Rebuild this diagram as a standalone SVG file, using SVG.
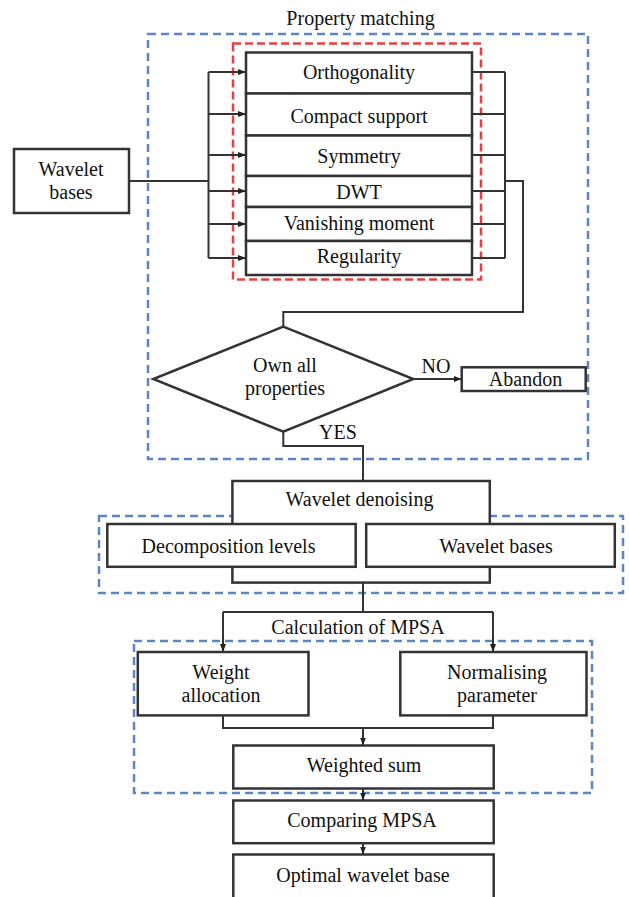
<svg xmlns="http://www.w3.org/2000/svg" width="629" height="897" viewBox="0 0 629 897">
<defs>
<marker id="ah" markerWidth="9" markerHeight="7" refX="8" refY="3.5" orient="auto" markerUnits="userSpaceOnUse">
<path d="M0,0.5 L8,3.5 L0,6.5 z" fill="#222"/>
</marker>
</defs>
<style>
.box{fill:#fff;stroke:#333;stroke-width:2.5}
.ln{fill:none;stroke:#333;stroke-width:2}
.arr{fill:none;stroke:#333;stroke-width:2;marker-end:url(#ah)}
.blue{fill:none;stroke:#5b86c6;stroke-width:2.5;stroke-dasharray:8 5}
.red{fill:none;stroke:#e8403f;stroke-width:2.5;stroke-dasharray:8 4}
text{font-family:"Liberation Serif","Times New Roman",serif;font-size:20px;fill:#111;text-anchor:middle}
</style>
<rect width="629" height="897" fill="#fff"/>
<g id="groups">
<rect class="blue" x="148" y="34" width="440" height="425"/>
<rect class="red" x="233" y="43.5" width="248" height="236"/>
<rect class="blue" x="99" y="516" width="524" height="77"/>
<rect class="blue" x="134" y="641" width="458" height="152"/>
<text x="360.5" y="25">Property matching</text>
</g>
<g id="connectors">
<path class="ln" d="M129,181 H208.5 M208.5,72 V258"/>
<path class="arr" d="M208.5,72 H246"/>
<path class="arr" d="M208.5,114 H246"/>
<path class="arr" d="M208.5,155 H246"/>
<path class="arr" d="M208.5,191 H246"/>
<path class="arr" d="M208.5,224 H246"/>
<path class="arr" d="M208.5,258 H246"/>
<path class="ln" d="M472,72 H505 M472,114 H505 M472,155 H505 M472,191 H505 M472,224 H505 M472,258 H505 M505,72 V258 M505,181 H523 V312 H283.3 V327"/>
<path class="arr" d="M413.3,379 H461.7"/>
<path class="ln" d="M283.3,431.7 V446 H363 V481"/>
<path class="ln" d="M363,582.6 V612"/>
<path class="arr" d="M223,612 V652"/>
<path class="arr" d="M493,612 V652"/>
<path class="ln" d="M223,612 H493"/>
<path class="ln" d="M223,715 V728 H493 V715"/>
<path class="arr" d="M363,728 V745.5"/>
<path class="arr" d="M363,788.5 V800.5"/>
<path class="arr" d="M363,843 V854.5"/>
</g>
<g id="wavelet-bases">
<rect class="box" x="14" y="149" width="115" height="64"/>
<text x="71" y="176">Wavelet</text>
<text x="71" y="199">bases</text>
</g>
<g id="orthogonality">
<rect class="box" x="246" y="52.5" width="226" height="41"/>
<text x="359" y="79">Orthogonality</text>
</g>
<g id="compact-support">
<rect class="box" x="246" y="93.5" width="226" height="42"/>
<text x="359" y="123">Compact support</text>
</g>
<g id="symmetry">
<rect class="box" x="246" y="135.5" width="226" height="40.5"/>
<text x="359" y="163">Symmetry</text>
</g>
<g id="dwt">
<rect class="box" x="246" y="176" width="226" height="31"/>
<text x="359" y="199">DWT</text>
</g>
<g id="vanishing-moment">
<rect class="box" x="246" y="207" width="226" height="34"/>
<text x="359" y="230">Vanishing moment</text>
</g>
<g id="regularity">
<rect class="box" x="246" y="241" width="226" height="34"/>
<text x="359" y="263">Regularity</text>
</g>
<g id="own-all-properties">
<polygon class="box" points="283.3,326.7 413.3,379 283.3,431.7 153.3,379"/>
<text x="285" y="371.7">Own all</text>
<text x="285" y="395">properties</text>
</g>
<g id="labels">
<text x="436" y="372.7">NO</text>
<text x="338" y="439">YES</text>
</g>
<g id="abandon">
<rect class="box" x="461.7" y="367.3" width="124" height="23.7"/>
<text x="525.5" y="386">Abandon</text>
</g>
<g id="wavelet-denoising">
<rect class="box" x="232.4" y="481" width="257.4" height="101.6"/>
<text x="359.5" y="505.5">Wavelet denoising</text>
</g>
<g id="decomposition-levels">
<rect class="box" x="107.3" y="524" width="248.4" height="42.8"/>
<text x="228.5" y="552.8">Decomposition levels</text>
</g>
<g id="wavelet-bases-2">
<rect class="box" x="366.2" y="524" width="248.6" height="42.8"/>
<text x="496" y="552.8">Wavelet bases</text>
</g>
<g id="calculation-of-mpsa">
<text x="358" y="633.7">Calculation of MPSA</text>
</g>
<g id="weight-allocation">
<rect class="box" x="137.8" y="652" width="170.7" height="63.4"/>
<text x="221" y="678.9">Weight</text>
<text x="221" y="701.5">allocation</text>
</g>
<g id="normalising-parameter">
<rect class="box" x="400.3" y="652" width="186.2" height="63.4"/>
<text x="497" y="678.9">Normalising</text>
<text x="497" y="701.5">parameter</text>
</g>
<g id="weighted-sum">
<rect class="box" x="233.3" y="745.5" width="260.4" height="43"/>
<text x="364" y="771.7">Weighted sum</text>
</g>
<g id="comparing-mpsa">
<rect class="box" x="233.3" y="800.5" width="260.4" height="42.7"/>
<text x="362" y="827.4">Comparing MPSA</text>
</g>
<g id="optimal-wavelet-base">
<rect class="box" x="233.3" y="854.5" width="260.4" height="44"/>
<text x="363" y="882.4">Optimal wavelet base</text>
</g>
</svg>
